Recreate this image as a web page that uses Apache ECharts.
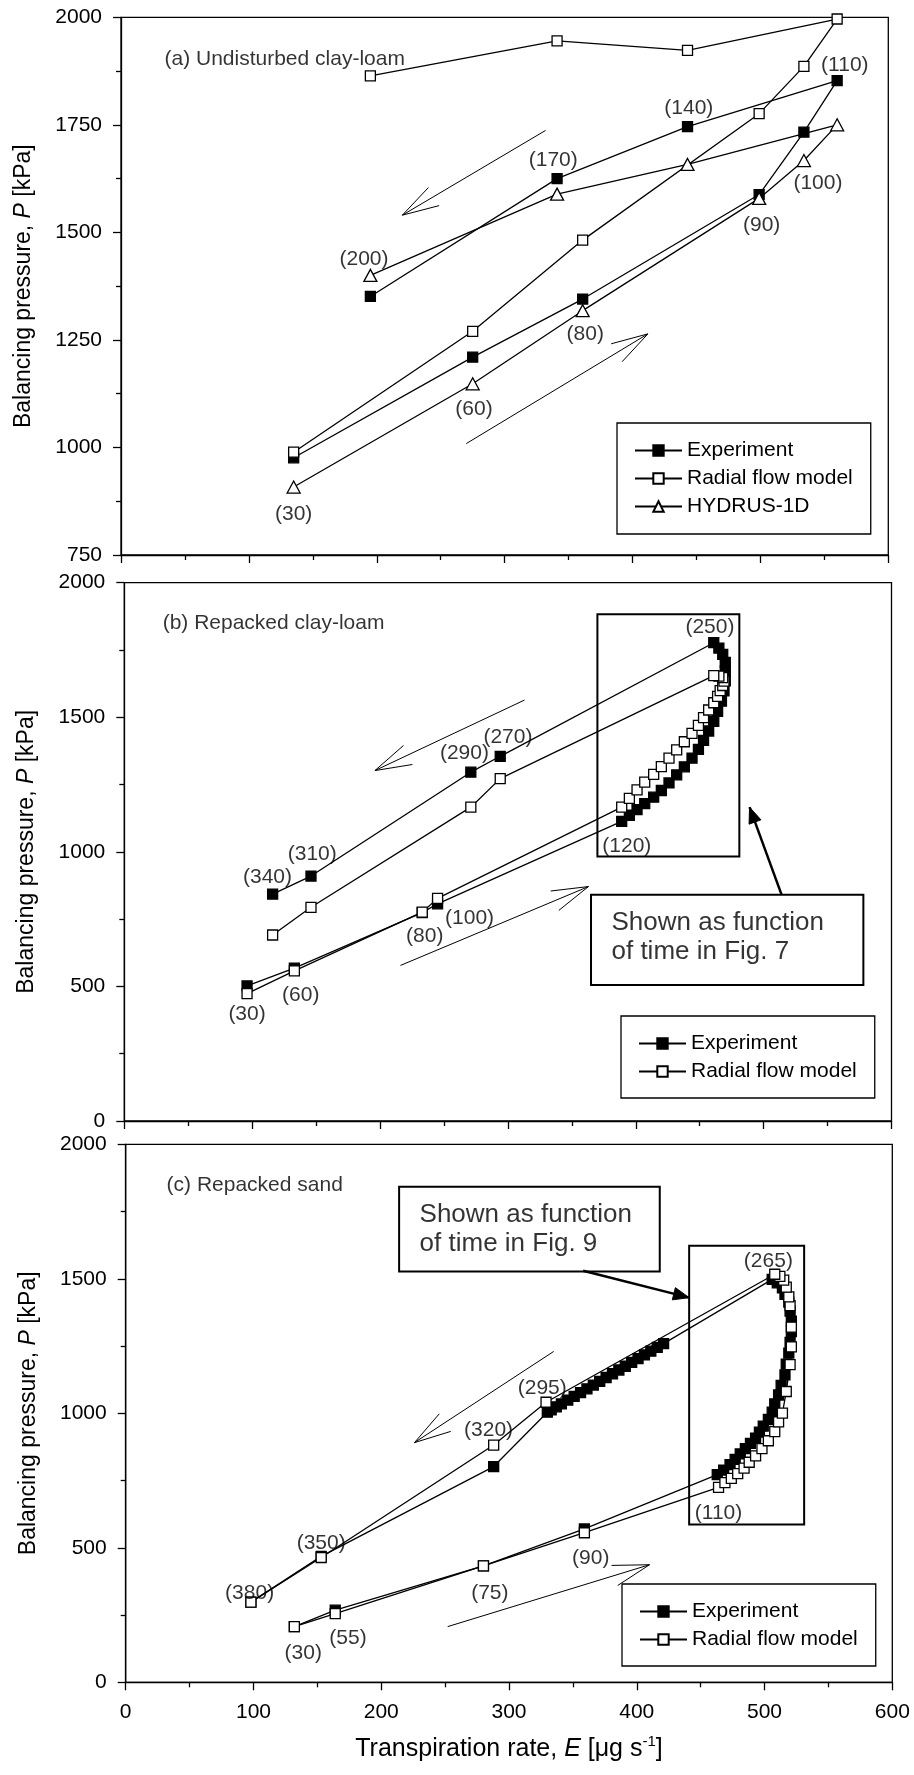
<!DOCTYPE html>
<html>
<head>
<meta charset="utf-8">
<title>Balancing pressure vs transpiration rate</title>
<script src="https://cdn.jsdelivr.net/npm/echarts@6/dist/echarts.min.js"></script>
<style>
html, body { margin: 0; padding: 0; background: #fff; }
#main { width: 914px; height: 1775px; }
</style>
</head>
<body>
<div id="main"></div>
<script>
const FONT = '"Liberation Sans", Arial, sans-serif';

// x ticks (shared by the three panels)
const xTicks = { min: 0, max: 600, interval: 100 };

// (a) undisturbed clay-loam, times 30,60,80,90,100,110,140,170,200
const eA = [135, 275, 361, 499, 534, 560, 443, 341, 195];
const expA = [976, 1210, 1345, 1588, 1733, 1853, 1746, 1625, 1351];
const radA = [989, 1270, 1482, 1776, 1886, 1996, 1923, 1945, 1864];
const hydA = [908, 1148, 1318, 1579, 1667, 1750, 1658, 1589, 1400];

// (b) repacked clay-loam  [E, P]
const expB = [
  [96, 502], [133, 568], [233, 774], [245, 807], [389, 1113],
  [395, 1136], [401, 1157], [407, 1179], [414, 1203], [420, 1228], [426, 1256],
  [432, 1286], [438, 1316], [444, 1348], [449, 1381], [453, 1414], [457, 1449],
  [461, 1485], [464, 1522], [467, 1560], [469, 1598], [470, 1635], [470, 1671],
  [470, 1704], [468, 1734], [465, 1757], [461, 1777],
  [294, 1355], [271, 1296], [146, 910], [116, 843]
];
const radB = [
  [96, 473], [133, 558], [233, 776], [245, 827], [389, 1166],
  [395, 1199], [401, 1230], [407, 1259], [414, 1288], [420, 1317], [426, 1348],
  [432, 1379], [438, 1409], [444, 1440], [449, 1470], [453, 1499], [457, 1527],
  [461, 1554], [464, 1578], [466, 1599], [468, 1618], [469, 1634], [468, 1647],
  [465, 1653], [461, 1655],
  [294, 1272], [271, 1166], [146, 794], [116, 691]
];

// (c) repacked sand  [E, P]
const expC = [
  [132, 207], [164, 268], [280, 433], [359, 570], [463, 772],
  [468, 789], [473, 809], [477, 829], [481, 849], [485, 869], [489, 888], [493, 908],
  [496, 930], [499, 952], [503, 977], [506, 1004], [508, 1035], [511, 1068],
  [513, 1104], [516, 1143], [517, 1183], [519, 1224], [520, 1264], [521, 1304],
  [521, 1343], [520, 1380], [519, 1413], [516, 1442], [514, 1466], [510, 1485],
  [506, 1498],
  [421, 1259], [416, 1245], [411, 1231], [406, 1217], [401, 1203], [396, 1189],
  [391, 1175], [386, 1161], [381, 1147], [376, 1133], [371, 1119], [366, 1105],
  [361, 1091], [356, 1077], [351, 1063], [346, 1049], [341, 1035], [337, 1024],
  [333, 1013],
  [330, 1004], [288, 802], [153, 468], [98, 298]
];
const radC = [
  [132, 207], [164, 255], [280, 433], [359, 556], [464, 725],
  [469, 742], [474, 758], [479, 776], [484, 796], [488, 818], [493, 842], [498, 869],
  [503, 898], [508, 932], [511, 968], [514, 1001], [517, 1081], [520, 1181],
  [521, 1247], [521, 1320], [520, 1400], [519, 1433], [517, 1469], [515, 1495],
  [512, 1509], [508, 1517],
  [329, 1041], [288, 882], [153, 464], [98, 298]
];

// time labels  [E, P, text]
const labelsA = [[135, 845, '(30)'], [276, 1088, '(60)'], [363, 1264, '(80)'], [501, 1517, '(90)'],
  [545, 1614, '(100)'], [566, 1889, '(110)'], [444, 1789, '(140)'], [338, 1667, '(170)'], [190, 1437, '(200)']];
const labelsB = [[96, 396, '(30)'], [138, 469, '(60)'], [235, 688, '(80)'], [270, 754, '(100)'],
  [393, 1020, '(120)'], [458, 1833, '(250)'], [300, 1425, '(270)'], [266, 1365, '(290)'],
  [147, 991, '(310)'], [112, 907, '(340)']];
const labelsC = [[139, 110, '(30)'], [174, 165, '(55)'], [285, 331, '(75)'], [364, 460, '(90)'],
  [464, 630, '(110)'], [503, 1566, '(265)'], [326, 1092, '(295)'], [284, 938, '(320)'],
  [153, 517, '(350)'], [97, 331, '(380)']];

// panel titles and callout notes (left aligned)
const notesA = [[34, 1903, '(a) Undisturbed clay-loam']];
const notesB = [[30, 1850, '(b) Repacked clay-loam']];
const notesC = [[32, 1847, '(c) Repacked sand']];
const calloutB = [[381, 681, 'Shown as function\nof time in Fig. 7']];
const calloutC = [[230, 1685, 'Shown as function\nof time in Fig. 9']];

// boxes  [E1, P1, E2, P2]
const boxesB = [[370, 1883, 481, 983], [365, 841, 578, 505]];
const boxesC = [[441, 1623, 531, 587], [214, 1842, 418, 1527]];

// arrows  [E1, P1, E2, P2, filled]
const arrowsA = [[332, 1737, 220, 1540, 0], [270, 1009, 412, 1264, 0]];
const arrowsB = [[313, 1564, 196, 1302, 0], [216, 578, 363, 871, 0], [514, 841, 489, 1166, 1]];
const arrowsC = [[335, 1230, 226, 891, 0], [252, 207, 410, 437, 0], [358, 1530, 441, 1430, 1]];

const black = '#000';

function pairs(xs, ys) { return xs.map((x, i) => [x, ys[i]]); }

function lineSeries(name, idx, data, symbol, size, fill) {
  return {
    type: 'line', name: name, xAxisIndex: idx, yAxisIndex: idx, data: data,
    symbol: symbol, symbolSize: size, showAllSymbol: true,
    lineStyle: { color: black, width: 1.3 },
    itemStyle: { color: fill, borderColor: black, borderWidth: 1.3 },
    emphasis: { disabled: true }, silent: true, clip: false
  };
}

function textSeries(idx, list, extra) {
  return {
    type: 'scatter', xAxisIndex: idx, yAxisIndex: idx, silent: true, z: 6,
    symbolSize: 1, itemStyle: { color: 'rgba(0,0,0,0)' },
    label: Object.assign({ show: true, position: 'inside', color: black, fontSize: 21, fontFamily: FONT }, extra),
    data: list.map(d => ({ value: [d[0], d[1]], label: { formatter: d[2] } }))
  };
}

function boxSeries(idx, list) {
  return {
    type: 'custom', xAxisIndex: idx, yAxisIndex: idx, silent: true, z: 1, clip: false,
    encode: { x: [0, 2], y: [1, 3] },
    renderItem: function (params, api) {
      const a = api.coord([api.value(0), api.value(1)]);
      const b = api.coord([api.value(2), api.value(3)]);
      return {
        type: 'rect',
        shape: { x: Math.min(a[0], b[0]), y: Math.min(a[1], b[1]), width: Math.abs(b[0] - a[0]), height: Math.abs(b[1] - a[1]) },
        style: { fill: 'none', stroke: black, lineWidth: 2 }
      };
    },
    data: list
  };
}

function arrowSeries(idx, list) {
  return {
    type: 'custom', xAxisIndex: idx, yAxisIndex: idx, silent: true, z: 1, clip: false,
    encode: { x: [0, 2], y: [1, 3] },
    renderItem: function (params, api) {
      const p1 = api.coord([api.value(0), api.value(1)]);
      const p2 = api.coord([api.value(2), api.value(3)]);
      const filled = api.value(4) === 1;
      const ang = Math.atan2(p1[1] - p2[1], p1[0] - p2[0]);
      const len = filled ? 17 : 38;
      const spread = filled ? 0.38 : 0.28;
      const w1 = [p2[0] + len * Math.cos(ang + spread), p2[1] + len * Math.sin(ang + spread)];
      const w2 = [p2[0] + len * Math.cos(ang - spread), p2[1] + len * Math.sin(ang - spread)];
      const head = filled
        ? { type: 'polygon', shape: { points: [w1, p2, w2] }, style: { fill: black, stroke: black, lineWidth: 1 } }
        : { type: 'polyline', shape: { points: [w1, p2, w2] }, style: { fill: 'none', stroke: black, lineWidth: 1 } };
      return {
        type: 'group',
        children: [
          { type: 'line', shape: { x1: p1[0], y1: p1[1], x2: p2[0], y2: p2[1] },
            style: { stroke: black, lineWidth: filled ? 2.5 : 1 } },
          head
        ]
      };
    },
    data: list
  };
}

const grids = [
  { left: 121, top: 17.3, width: 767.3, height: 537.7 },
  { left: 124.3, top: 582.7, width: 767.2, height: 538.3 },
  { left: 125.7, top: 1144.3, width: 766.6, height: 538 }
].map(g => Object.assign({ show: true, borderColor: black, borderWidth: 1.3, backgroundColor: 'transparent', outerBoundsMode: 'none', containLabel: false }, g));

function xAxis(idx, withLabels) {
  return {
    type: 'value', gridIndex: idx, min: xTicks.min, max: xTicks.max, interval: xTicks.interval,
    axisLine: { show: true, onZero: false, lineStyle: { color: black, width: 1.3 } },
    axisTick: { show: true, inside: false, length: 8, lineStyle: { color: black, width: 1.3 } },
    minorTick: { show: true, splitNumber: 2, length: 5, lineStyle: { color: black, width: 1.3 } },
    splitLine: { show: false }, minorSplitLine: { show: false },
    axisLabel: { show: withLabels, color: black, fontSize: 21, fontFamily: FONT, margin: 19,
      showMinLabel: true, showMaxLabel: true, formatter: v => String(v) },
    name: withLabels ? '{n|Transpiration rate, }{i|E}{n| [μg s}{s|-1}{n|]}' : '',
    nameLocation: 'middle', nameGap: 52,
    nameTextStyle: {
      color: black, fontSize: 25, fontFamily: FONT,
      rich: {
        n: { fontSize: 25, fontFamily: FONT, color: black, lineHeight: 30 },
        i: { fontSize: 25, fontFamily: FONT, color: black, fontStyle: 'italic', lineHeight: 30 },
        s: { fontSize: 15, fontFamily: FONT, color: black, verticalAlign: 'top' }
      }
    }
  };
}

function yAxis(idx, min, interval) {
  return {
    type: 'value', gridIndex: idx, min: min, max: 2000, interval: interval,
    axisLine: { show: true, onZero: false, lineStyle: { color: black, width: 1.3 } },
    axisTick: { show: true, inside: false, length: 8, lineStyle: { color: black, width: 1.3 } },
    minorTick: { show: true, splitNumber: 2, length: 5, lineStyle: { color: black, width: 1.3 } },
    splitLine: { show: false }, minorSplitLine: { show: false },
    axisLabel: { color: black, fontSize: 21, fontFamily: FONT, margin: 19,
      showMinLabel: true, showMaxLabel: true, formatter: v => String(v) },
    name: '{n|Balancing pressure, }{i|P}{n| [kPa]}',
    nameLocation: 'middle', nameGap: 86,
    nameTextStyle: {
      color: black, fontSize: 23, fontFamily: FONT,
      rich: {
        n: { fontSize: 23, fontFamily: FONT, color: black },
        i: { fontSize: 23, fontFamily: FONT, color: black, fontStyle: 'italic' }
      }
    }
  };
}

function legend(names, left, top, padding) {
  return {
    data: names, orient: 'vertical', left: left, top: top, padding: padding,
    itemWidth: 47, itemHeight: 13, itemGap: 7, selectedMode: false,
    borderColor: black, borderWidth: 1.3, backgroundColor: '#fff',
    textStyle: { color: black, fontSize: 21, fontFamily: FONT, lineHeight: 20 }
  };
}

const chart = echarts.init(document.getElementById('main'), null, { renderer: 'canvas' });
chart.setOption({
  animation: false,
  backgroundColor: '#fff',
  textStyle: { fontFamily: FONT },
  grid: grids,
  xAxis: [xAxis(0, false), xAxis(1, false), xAxis(2, true)],
  yAxis: [yAxis(0, 750, 250), yAxis(1, 0, 500), yAxis(2, 0, 500)],
  legend: [
    legend(['Experiment', 'Radial flow model', 'HYDRUS-1D'], 617, 423, [17, 18, 17, 17]),
    legend(['Experiment', 'Radial flow model'], 621, 1016, [17, 18, 16, 17]),
    legend(['Experiment', 'Radial flow model'], 622, 1584, [17, 18, 16, 17])
  ],
  series: [
    lineSeries('Experiment', 0, pairs(eA, expA), 'rect', 10, black),
    lineSeries('Radial flow model', 0, pairs(eA, radA), 'rect', 10, '#fff'),
    lineSeries('HYDRUS-1D', 0, pairs(eA, hydA), 'triangle', [13, 12], '#fff'),
    lineSeries('Experiment', 1, expB, 'rect', 10, black),
    lineSeries('Radial flow model', 1, radB, 'rect', 10, '#fff'),
    lineSeries('Experiment', 2, expC, 'rect', 10, black),
    lineSeries('Radial flow model', 2, radC, 'rect', 10, '#fff'),
    textSeries(0, labelsA),
    textSeries(1, labelsB),
    textSeries(2, labelsC),
    textSeries(0, notesA, { align: 'left' }),
    textSeries(1, notesB, { align: 'left' }),
    textSeries(2, notesC, { align: 'left' }),
    textSeries(1, calloutB, { align: 'left', fontSize: 26, lineHeight: 29 }),
    textSeries(2, calloutC, { align: 'left', fontSize: 26, lineHeight: 29 }),
    boxSeries(1, boxesB),
    boxSeries(2, boxesC),
    arrowSeries(0, arrowsA),
    arrowSeries(1, arrowsB),
    arrowSeries(2, arrowsC)
  ]
});
</script>
</body>
</html>
